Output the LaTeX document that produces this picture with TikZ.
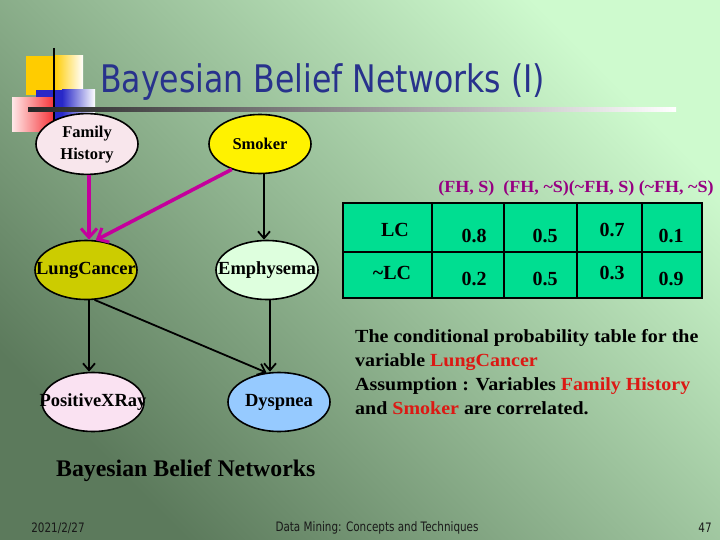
\documentclass[tikz,border=0pt]{standalone}
\usepackage{fontspec}
\setmainfont{Liberation Serif}
\newfontfamily\tahoma{DejaVu Sans}
\usetikzlibrary{shapes.geometric,arrows.meta}
\definecolor{bgdark}{RGB}{92,122,92}
\definecolor{bglight}{RGB}{206,250,206}
\definecolor{mag}{RGB}{196,0,156}
\definecolor{titleblue}{RGB}{40,50,140}
\definecolor{cellgreen}{RGB}{0,222,145}
\definecolor{hdrpurple}{RGB}{150,0,130}
\definecolor{redtxt}{RGB}{220,25,20}
\definecolor{gold}{RGB}{255,204,0}
\definecolor{decoblue}{RGB}{40,40,200}
\definecolor{decored}{RGB}{245,55,60}
\definecolor{decopink}{RGB}{255,232,232}
\definecolor{fhfill}{RGB}{248,230,236}
\definecolor{lcfill}{RGB}{204,204,0}
\definecolor{emfill}{RGB}{222,255,222}
\definecolor{pxfill}{RGB}{250,226,242}
\definecolor{dyfill}{RGB}{150,202,255}
\definecolor{foot}{RGB}{25,25,25}
\newcommand{\nb}[1]{\makebox[0pt][c]{#1}}
\tikzset{
  bn/.style={ellipse, draw=black, line width=1.6pt, minimum width=102pt, minimum height=59pt,
    inner sep=0pt, font=\bfseries\fontsize{18.5}{20}\selectfont},
  bnsmall/.style={bn, font=\bfseries\fontsize{16.5}{21.5}\selectfont},
  blackarr/.style={line width=1.8pt, -{Straight Barb[length=7pt,width=12pt,line width=1.8pt]}},
  magarr/.style={draw=mag, line width=3.6pt, -{Straight Barb[length=9pt,width=16pt,line width=3pt]}},
  celltxt/.style={font=\bfseries\fontsize{20}{22}\selectfont, inner sep=0pt},
  para/.style={anchor=base west, inner sep=0pt, font=\bfseries\fontsize{18.5}{20}\selectfont},
  foottxt/.style={text=foot, inner sep=0pt, font=\tahoma\fontsize{13}{15}\selectfont}
}
\begin{document}
\begin{tikzpicture}[x=1pt,y=-1pt]
\useasboundingbox (0,0) rectangle (720,540);
% background
\shade[bottom color=bgdark, top color=bglight, shading angle=-45] (0,0) rectangle (720,540);
% decoration
\fill[gold] (26,56) rectangle (54,95);
\shade[left color=gold, right color=white] (54,56) rectangle (83,95);
\fill[decoblue] (36,90) rectangle (62,120);
\shade[left color=decoblue, right color=white] (62,90) rectangle (95,120);
\shade[left color=decopink, right color=decored] (12,98) rectangle (53,132);
\draw[line width=2.5pt, black] (54,48) -- (54,132);
\shade[left color=black!85, right color=white] (28,108) rectangle (676,112);
% title
\node[anchor=base west, inner sep=0pt, text=titleblue] (title) at (100,93)
  {\scalebox{0.83}[1]{\tahoma\fontsize{38}{40}\selectfont Bayesian Belief Networks (I)}};
% nodes
\node[bnsmall, fill=fhfill] (fh) at (87,144) {\nb{\begin{tabular}{@{}c@{}}Family\\History\end{tabular}}};
\node[bnsmall, fill=yellow] (sm) at (260,144) {\nb{Smoker}};
\node[bn, fill=lcfill] (lc) at (86,270) {\nb{LungCancer}};
\node[bn, fill=emfill] (em) at (267,270) {\nb{Emphysema}};
\node[bn, fill=pxfill] (px) at (93,402) {\nb{PositiveXRay}};
\node[bn, fill=dyfill] (dy) at (279,402) {\nb{Dyspnea}};
% edges
\draw[magarr] ([xshift=2pt]fh.south) -- ([xshift=3pt]lc.north);
\draw[magarr] (sm.-138) -- (lc.72);
\draw[blackarr] ([xshift=4pt]sm.south) -- ([xshift=-3pt]em.north);
\draw[blackarr] ([xshift=3pt]lc.south) -- ([xshift=-4pt]px.north);
\draw[blackarr] (lc.-74) -- (dy.113);
\draw[blackarr] ([xshift=3pt]em.south) -- ([xshift=-9pt]dy.north);
% table
\node[anchor=base, inner sep=0pt, text=hdrpurple, font=\bfseries\fontsize{17}{18}\selectfont] (hdr) at (576,193)
  {\scalebox{1.06}[1]{(FH, S)\ \ (FH, \textasciitilde S)(\textasciitilde FH, S) (\textasciitilde FH, \textasciitilde S)}};
\filldraw[fill=cellgreen, draw=black, line width=1.8pt] (343,203) rectangle (702,298);
\draw[line width=1.8pt] (343,252) -- (702,252)
  (432,203) -- (432,298) (504,203) -- (504,298) (577,203) -- (577,298) (642,203) -- (642,298);
\node[celltxt] (r1) at (395,230) {LC};
\node[celltxt] (a1) at (474,236) {0.8};
\node[celltxt] (b1) at (545,236) {0.5};
\node[celltxt] (c1) at (612,230) {0.7};
\node[celltxt] (d1) at (671,236) {0.1};
\node[celltxt] (r2) at (392,273) {\textasciitilde LC};
\node[celltxt] (a2) at (474,279) {0.2};
\node[celltxt] (b2) at (545,279) {0.5};
\node[celltxt] (c2) at (612,273) {0.3};
\node[celltxt] (d2) at (671,279) {0.9};
% paragraph
\node[para] (p1) at (355,342) {\scalebox{1.08}[1]{The conditional probability table for the}};
\node[para] (p2) at (355,366) {\scalebox{1.08}[1]{variable \textcolor{redtxt}{LungCancer}}};
\node[para] (p3) at (355,390) {\scalebox{1.08}[1]{Assumption : Variables \textcolor{redtxt}{Family History}}};
\node[para] (p4) at (355,414) {\scalebox{1.08}[1]{and \textcolor{redtxt}{Smoker} are correlated.}};
% caption
\node[anchor=base west, inner sep=0pt, font=\bfseries\fontsize{23.8}{25}\selectfont] (cap) at (56,476) {Bayesian Belief Networks};
% footer
\node[foottxt] (date) at (58,528) {\scalebox{0.8}[1]{2021/2/27}};
\node[foottxt] (ft) at (377,528) {\scalebox{0.8}[1]{Data Mining: Concepts and Techniques}};
\node[foottxt] (pg) at (705,528) {\scalebox{0.8}[1]{47}};
\end{tikzpicture}
\end{document}
